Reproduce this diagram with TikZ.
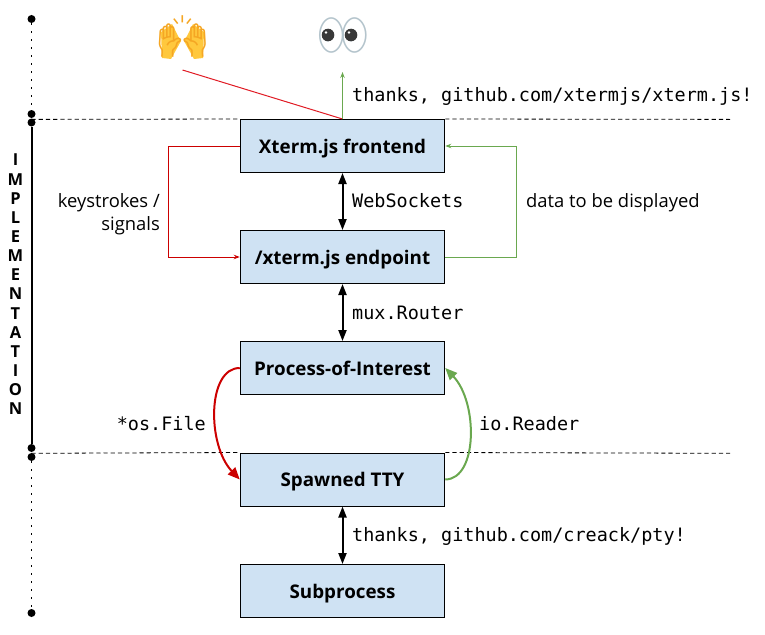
\documentclass[tikz,border=0pt]{standalone}
\usepackage{fontspec}
\setmainfont{Open Sans}
\newfontfamily\codefont{DejaVu Sans Mono}
\newfontfamily\emojifont{Noto Emoji}
\usetikzlibrary{arrows.meta}
\definecolor{boxfill}{HTML}{CFE2F3}
\definecolor{redline}{HTML}{CC0000}
\definecolor{brightred}{HTML}{E01B24}
\definecolor{greenline}{HTML}{6AA84F}
\definecolor{handcol}{HTML}{F5A623}
\definecolor{handfill}{HTML}{FFC83D}
\definecolor{eyecol}{HTML}{B4C4CC}
\tikzset{
  x=1pt,y=-1pt,
  flowbox/.style={draw=black,line width=1pt,fill=boxfill,minimum width=204.5pt,minimum height=53pt,inner sep=0pt,text height=16pt,text depth=1.4pt,font=\fontsize{18.8}{20}\selectfont\bfseries},
  codelabel/.style={inner sep=0pt,text height=14pt,text depth=4pt,font=\fontsize{18.47}{22}\selectfont\codefont},
  textlabel/.style={inner sep=0pt,font=\fontsize{18.4}{23}\selectfont},
  vletter/.style={inner sep=0pt,font=\fontsize{16.5}{16}\selectfont\bfseries},
  pin/.style={circle,fill=black,inner sep=0pt,minimum size=8pt},
  guide/.style={dash pattern=on 4.2pt off 3pt,line width=0.8pt},
  dots/.style={line width=1.7pt,dash pattern=on 1.7pt off 6.3pt},
  both/.style={line width=2pt,{Triangle[length=11pt,width=8pt]}-{Triangle[length=11pt,width=8pt]}},
  thinred/.style={draw=redline,line width=1pt},
  thingreen/.style={draw=greenline,line width=1pt},
  thintip/.style={-{Stealth[length=6pt,width=4.5pt]}},
  curvered/.style={draw=redline,line width=2pt,-{Triangle[length=12pt,width=10pt]}},
  curvegreen/.style={draw=greenline,line width=2pt,-{Triangle[length=12pt,width=10pt]}},
  palm/.style={fill=handfill,draw=none},
}
\begin{document}
\begin{tikzpicture}
\useasboundingbox (0,0) rectangle (765,634);
% timeline
\node[pin] (p1) at (31.5,19) {};
\node[pin] (p2) at (31.5,114) {};
\node[pin] (p3) at (31.5,122.5) {};
\node[pin] (p4) at (31.5,448) {};
\node[pin] (p5) at (31.5,457) {};
\node[pin] (p6) at (31.5,613) {};
\draw[dots] (p1) -- (p2);
\draw[line width=2pt] (p3) -- (p4);
\draw[dots] (p5) -- (p6);
% boxes
\node[flowbox] (front) at (342.5,146) {Xterm.js frontend};
\node[flowbox] (endp) at (342.5,257) {/xterm.js endpoint};
\node[flowbox] (poi) at (342.5,368) {Process-of-Interest};
\node[flowbox] (tty) at (342.5,479.5) {Spawned TTY};
\node[flowbox] (sub) at (342.5,591) {Subprocess};
% guides
\coordinate (gl1) at (31.5,119.4);
\coordinate (gr1) at (730,119.4);
\coordinate (gl2) at (31.5,453.3);
\coordinate (gr2) at (730,453.3);
\draw[guide] (gl1) -- (front.north west);
\draw[guide] (front.north east) -- (gr1);
\draw[guide] (gl2) -- (tty.north west);
\draw[guide] (tty.north east) -- (gr2);
% emoji underlays and glyphs
\fill[palm] (161,32) -- (172,24) -- (178,36) -- (181,41) -- (171,59) -- (162,58) -- cycle;
\fill[palm] (204,32) -- (193,24) -- (187,36) -- (184,41) -- (194,59) -- (203,58) -- cycle;
\fill[white] (331,35) ellipse (11 and 16);
\fill[white] (355,35) ellipse (11 and 16);
\node[inner sep=0pt,text=handcol,font=\fontsize{41}{41}\selectfont\emojifont] (hands) at (182.5,36) {🙌};
\node[inner sep=0pt,text=eyecol,font=\fontsize{41}{41}\selectfont\emojifont] (eyes) at (343,35) {👀};
\fill[black!78] (328,35) circle (6.3);
\fill[black!78] (351,35) circle (6.3);
\fill[white] (326,32.5) circle (1.4);
\fill[white] (349,32.5) circle (1.4);
\coordinate (handfoot) at (182.5,70);
\coordinate (eyefoot) at (342.5,72);
% top connectors
\draw[draw=brightred,line width=1pt] (handfoot) -- (front.north);
\draw[thingreen,thintip] (front.north) -- (eyefoot);
% ortho
\draw[thinred,thintip] (front.west) -- ++(-71.5,0) |- (endp.west);
\draw[thingreen,thintip] (endp.east) -- ++(71,0) |- (front.east);
% double arrows
\draw[both] (front.south) -- (endp.north);
\draw[both] (endp.south) -- (poi.north);
\draw[both] (tty.south) -- (sub.north);
% curves
\draw[curvered] (poi.west) .. controls (207,368) and (207,445) .. (tty.west);
\draw[curvegreen] (tty.east) .. controls (478,479) and (478,402) .. (poi.east);
% labels
\node[codelabel,anchor=west] (l1) at (352,96) {thanks, github.com/xtermjs/xterm.js!};
\node[codelabel,anchor=west] (l2) at (352,202.5) {WebSockets};
\node[codelabel,anchor=west] (l3) at (352,314.5) {mux.Router};
\node[codelabel,anchor=east] (l4) at (206,425.5) {*os.File};
\node[codelabel,anchor=west] (l5) at (479,425.5) {io.Reader};
\node[codelabel,anchor=west] (l6) at (352,536.5) {thanks, github.com/creack/pty!};
\node[textlabel,anchor=east,align=right] (l7) at (160,214) {keystrokes /\\signals};
\node[textlabel,anchor=west] (l8) at (526,203) {data to be displayed};
% vertical word
\foreach \c [count=\i from 0] in {I,M,P,L,E,M,E,N,T,A,T,I,O,N}{
  \node[vletter] (v\i) at (15.5,160+19.15*\i) {\c};
}
\end{tikzpicture}
\end{document}
